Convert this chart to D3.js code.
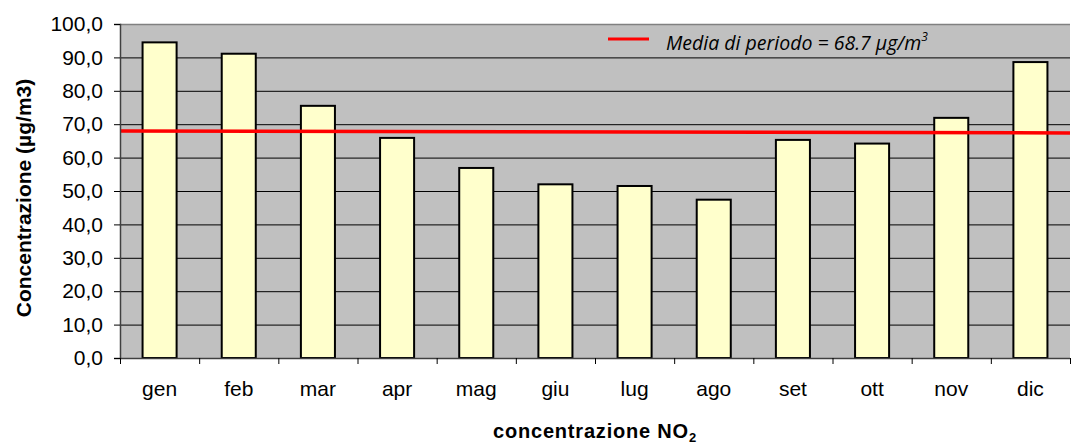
<!DOCTYPE html>
<html>
<head>
<meta charset="utf-8">
<script src="https://cdn.jsdelivr.net/npm/d3@7"></script>
<style>
  body { margin: 0; background: #fff; }
  svg { display: block; font-family: "Liberation Sans", Arial, sans-serif; }
</style>
</head>
<body>
<svg width="1071" height="446"></svg>
<script>
var months = ["gen","feb","mar","apr","mag","giu","lug","ago","set","ott","nov","dic"];
var values = [94.5, 91.1, 75.5, 65.9, 56.9, 52.0, 51.5, 47.4, 65.3, 64.2, 71.9, 88.6];
// red line as drawn: slightly lower at right end
var meanLine = [68.0, 67.4];
var yTicks = [0,10,20,30,40,50,60,70,80,90,100];
var legendText = "Media di periodo = 68.7 \u00b5g/m";

var svg = d3.select("svg"),
    margins = {top: 24, right: 1, bottom: 88, left: 120},
    width = 1071 - margins.left - margins.right,
    height = 446 - margins.top - margins.bottom;

var x = d3.scaleBand()
  .domain(months)
  .range([margins.left, margins.left + width])
  .paddingInner(0.57)
  .paddingOuter(0.285);

var y = d3.scaleLinear()
  .domain([0, 100])
  .range([margins.top + height, margins.top]);

var fmt = function(d) { return d3.format(".1f")(d).replace(".", ","); };

// plot background
svg.append("rect")
  .attr("x", margins.left)
  .attr("y", margins.top)
  .attr("width", width)
  .attr("height", height)
  .attr("fill", "#c0c0c0");

// gridlines
svg.append("g")
  .selectAll("line")
  .data(yTicks.filter(function(d) { return d > 0 && d < 100; }))
  .enter().append("line")
  .attr("x1", margins.left)
  .attr("x2", margins.left + width)
  .attr("y1", function(d) { return y(d) + 0.5; })
  .attr("y2", function(d) { return y(d) + 0.5; })
  .attr("stroke", "#000")
  .attr("stroke-width", 1);

// top border
svg.append("line")
  .attr("x1", margins.left).attr("x2", margins.left + width)
  .attr("y1", y(100) + 0.5).attr("y2", y(100) + 0.5)
  .attr("stroke", "#808080").attr("stroke-width", 1.5);

// bars
svg.append("g")
  .selectAll("rect")
  .data(values)
  .enter().append("rect")
  .attr("x", function(d, i) { return x(months[i]); })
  .attr("y", function(d) { return y(d); })
  .attr("width", x.bandwidth())
  .attr("height", function(d) { return y(0) - y(d); })
  .attr("fill", "#ffffcc")
  .attr("stroke", "#000")
  .attr("stroke-width", 2);

// mean line
svg.append("line")
  .attr("x1", margins.left)
  .attr("x2", margins.left + width)
  .attr("y1", y(meanLine[0]))
  .attr("y2", y(meanLine[1]))
  .attr("stroke", "#ff0000")
  .attr("stroke-width", 3.5);

// y axis
var yAxis = svg.append("g")
  .attr("transform", "translate(" + margins.left + ",0)")
  .call(d3.axisLeft(y).tickValues(yTicks).tickFormat(fmt).tickSize(6).tickPadding(11));
yAxis.select(".domain").attr("stroke", "#404040").attr("stroke-width", 1.5);
yAxis.selectAll(".tick line").attr("stroke", "#000");
yAxis.selectAll("text")
  .attr("font-size", 21)
  .attr("fill", "#000")
  .style("font-family", "'Liberation Sans', Arial, sans-serif");

// x axis
var xTicks = d3.range(months.length + 1);
var step = x.step();
svg.append("line")
  .attr("x1", margins.left).attr("x2", margins.left + width)
  .attr("y1", y(0) + 0.5).attr("y2", y(0) + 0.5)
  .attr("stroke", "#404040").attr("stroke-width", 1.5);
svg.append("g")
  .selectAll("line")
  .data(xTicks)
  .enter().append("line")
  .attr("x1", function(d) { return margins.left + d * step + 0.5; })
  .attr("x2", function(d) { return margins.left + d * step + 0.5; })
  .attr("y1", y(0))
  .attr("y2", y(0) + 6)
  .attr("stroke", "#000");
svg.append("g")
  .selectAll("text")
  .data(months)
  .enter().append("text")
  .attr("x", function(d) { return x(d) + x.bandwidth() / 2; })
  .attr("y", y(0) + 38)
  .attr("text-anchor", "middle")
  .attr("font-size", 21)
  .text(function(d) { return d; });

// axis titles
svg.append("text")
  .attr("transform", "translate(31," + (margins.top + height / 2 + 7) + ") rotate(-90)")
  .attr("text-anchor", "middle")
  .attr("font-size", 21)
  .attr("font-weight", "bold")
  .text("Concentrazione (\u00b5g/m3)");

var xt = svg.append("text")
  .attr("x", 595)
  .attr("y", 438)
  .attr("text-anchor", "middle")
  .attr("font-size", 20)
  .attr("font-weight", "bold")
  .attr("letter-spacing", 0.8);
xt.append("tspan").text("concentrazione NO");
xt.append("tspan").attr("font-size", 13).attr("dy", 4).text("2");

// legend
svg.append("line")
  .attr("x1", 608).attr("x2", 649)
  .attr("y1", 39).attr("y2", 39)
  .attr("stroke", "#ff0000").attr("stroke-width", 3);
var lt = svg.append("text")
  .attr("x", 666)
  .attr("y", 50)
  .attr("font-size", 19.5)
  .attr("font-style", "italic")
  .style("font-family", "'Open Sans', Carlito, sans-serif");
lt.append("tspan").text(legendText);
lt.append("tspan").attr("font-size", 12).attr("dy", -9).text("3");
</script>
</body>
</html>
